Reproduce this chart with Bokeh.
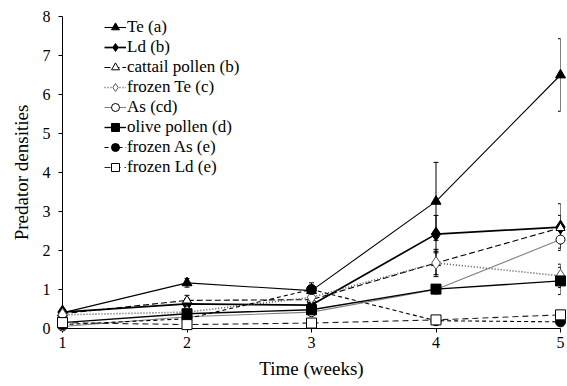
from bokeh.plotting import figure
from bokeh.models import Range1d, FixedTicker, Legend, LegendItem, ColumnDataSource, Whisker, TeeHead
from bokeh.embed import file_html
from bokeh.resources import INLINE

weeks = [1, 2, 3, 4, 5]
y_ticks = [0, 1, 2, 3, 4, 5, 6, 7, 8]

te = [0.40, 1.17, 0.97, 3.26, 6.50]
te_err = [0.05, 0.11, 0.10, 1.00, 0.93]
ld = [0.42, 0.63, 0.60, 2.42, 2.60]
ld_err = [0.05, 0.22, 0.10, 0.48, 0.60]
cattail = [0.38, 0.72, 0.74, 1.68, 2.58]
cattail_err = [0.03, 0.05, 0.10, 0.35, 0.32]
frozen_te = [0.35, 0.42, 0.80, 1.68, 1.35]
frozen_te_err = [0.03, 0.05, 0.08, 0.30, 0.30]
as_ = [0.05, 0.30, 0.42, 1.00, 2.28]
as_err = [0.03, 0.05, 0.05, 0.10, 0.22]
olive = [0.15, 0.38, 0.48, 1.01, 1.22]
olive_err = [0.03, 0.05, 0.05, 0.05, 0.35]
frozen_as = [0.10, 0.25, 1.00, 0.20, 0.17]
frozen_as_err = [0.03, 0.05, 0.17, 0.05, 0.05]
frozen_ld = [0.15, 0.10, 0.14, 0.22, 0.35]
frozen_ld_err = [0.05, 0.05, 0.03, 0.05, 0.05]

labels = ["Te (a)", "Ld (b)", "cattail pollen (b)", "frozen Te (c)", "As (cd)",
          "olive pollen (d)", "frozen As (e)", "frozen Ld (e)"]

FONT = "Liberation Serif"

W, H = 566, 385
TOP, BOTTOM = 16, 57
p = figure(width=W, height=H, x_range=Range1d(1, 5), y_range=Range1d(0, 8),
           output_backend="svg", toolbar_location=None,
           min_border_left=62, min_border_right=6, min_border_top=TOP,
           min_border_bottom=BOTTOM)
p.xgrid.visible = False
p.ygrid.visible = False
p.outline_line_color = None
p.background_fill_color = "white"
p.border_fill_color = "white"

p.xaxis.ticker = FixedTicker(ticks=weeks)
p.yaxis.ticker = FixedTicker(ticks=y_ticks)
for ax in (p.xaxis[0], p.yaxis[0]):
    ax.major_tick_out = 4
    ax.major_tick_in = 0
    ax.minor_tick_out = 0
    ax.minor_tick_in = 0
    ax.axis_line_color = "black"
    ax.major_tick_line_color = "black"
    ax.major_label_text_font = FONT
    ax.major_label_text_font_size = "16px"
    ax.major_label_text_font_style = "normal"
    ax.major_label_text_color = "black"
    ax.axis_label_text_font = FONT
    ax.axis_label_text_font_size = "19px"
    ax.axis_label_text_font_style = "normal"
    ax.axis_label_text_color = "black"
p.xaxis.axis_label = "Time (weeks)"
p.yaxis.axis_label = "Predator densities"
p.xaxis.major_label_standoff = 4
p.xaxis.axis_label_standoff = 7
p.yaxis.major_label_standoff = 8
p.yaxis.axis_label_standoff = 8

series = [
    (te, te_err, dict(line_color="black", line_width=1.1), dict(marker="triangle", size=10, fill_color="black", line_color="black")),
    (ld, ld_err, dict(line_color="black", line_width=1.7), dict(marker="diamond", size=14, fill_color="black", line_color="black")),
    (cattail, cattail_err, dict(line_color="black", line_width=1.1, line_dash="6 3"), dict(marker="triangle", size=9, fill_color="white", line_color="black")),
    (frozen_te, frozen_te_err, dict(line_color="#555555", line_width=1.6, line_dash="1 2"), dict(marker="diamond", size=13, fill_color="white", line_color="#555555")),
    (as_, as_err, dict(line_color="#808080", line_width=1.1), dict(marker="circle", size=9, fill_color="white", line_color="black")),
    (olive, olive_err, dict(line_color="black", line_width=1.4), dict(marker="square", size=10, fill_color="black", line_color="black")),
    (frozen_as, frozen_as_err, dict(line_color="black", line_width=1.1, line_dash="4 3"), dict(marker="circle", size=10, fill_color="black", line_color="black")),
    (frozen_ld, frozen_ld_err, dict(line_color="#222222", line_width=1.1, line_dash="6 4"), dict(marker="square", size=10, fill_color="white", line_color="black")),
]

for vals, errs, lk, mk in series:
    src = ColumnDataSource(dict(x=weeks, upper=[v + e for v, e in zip(vals, errs)],
                                lower=[v - e for v, e in zip(vals, errs)]))
    w = Whisker(source=src, base="x", upper="upper", lower="lower", dimension="height",
                line_color="black", line_width=1, level="glyph",
                upper_head=TeeHead(size=5, line_color="black", line_width=1),
                lower_head=TeeHead(size=5, line_color="black", line_width=1))
    p.add_layout(w)

items = []
for (vals, errs, lk, mk), lab in zip(series, labels):
    r1 = p.line(weeks, vals, level="overlay", **lk)
    r2 = p.scatter(weeks, vals, level="overlay", **mk)
    items.append(LegendItem(label=lab, renderers=[r1, r2]))

frame_h = H - TOP - BOTTOM
n = len(labels)
pitch = 20
legend = Legend(items=items, location=(42, frame_h - 1 - n * pitch),
                padding=0, margin=0, spacing=0, label_height=pitch, glyph_height=pitch,
                glyph_width=22, label_standoff=1,
                label_text_font=FONT, label_text_font_style="normal",
                label_text_font_size="17px", label_text_color="black",
                border_line_color=None, background_fill_alpha=0)
p.add_layout(legend)

open("out.html", "w").write(file_html(p, INLINE))
